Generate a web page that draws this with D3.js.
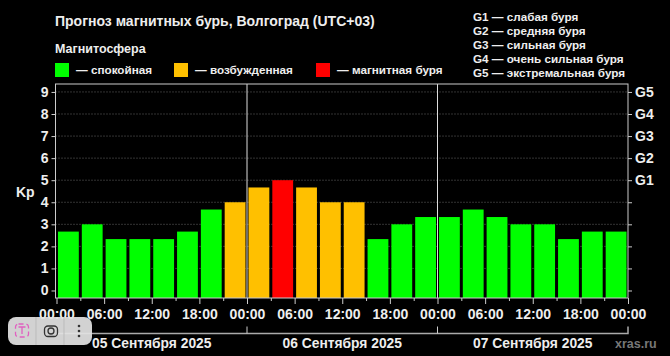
<!DOCTYPE html>
<html>
<head>
<meta charset="utf-8">
<style>
html, body { margin: 0; padding: 0; background: #000; }
svg { display: block; }
text { font-family: "Liberation Sans", Arial, sans-serif; font-weight: bold; fill: #eee; }
</style>
<script src="https://cdn.jsdelivr.net/npm/d3@7"></script>
</head>
<body>
<div id="chart"></div>
<script>
// Chart values
var days = ["05 Сентября 2025", "06 Сентября 2025", "07 Сентября 2025"];
var kpValues = [2.67, 3, 2.33, 2.33, 2.33, 2.67, 3.67, 4,
    4.67, 5, 4.67, 4, 4, 2.33, 3, 3.33,
    3.33, 3.67, 3.33, 3, 3, 2.33, 2.67, 2.67];
var kpTicks = [0, 1, 2, 3, 4, 5, 6, 7, 8, 9];
var stormTicks = [5, 6, 7, 8, 9];
var stormLabels = ["G1", "G2", "G3", "G4", "G5"];
var timeLabels = ["00:00", "06:00", "12:00", "18:00"];
var stormNotes = ["G1 — слабая буря", "G2 — средняя буря", "G3 — сильная буря",
    "G4 — очень сильная буря", "G5 — экстремальная буря"];
var legendNames = ["— спокойная", "— возбужденная", "— магнитная буря"];
var legendColors = ["#00ff00", "#ffc000", "#ff0000"];

var w = 670;
var h = 356;
var plotLeft = 55.5, plotRight = 628, plotTop = 84, plotBottom = 298;

var svg = d3.select("#chart").append("svg")
    .attr("width", w)
    .attr("height", h);

// One unit on x is 1 hour, so a bar is 3 units and a day is 24
var xScale = d3.scaleLinear().domain([0, 72]).range([plotLeft + 1, plotRight]);
var yScale = d3.scaleLinear().domain([-0.34, 9.36]).range([plotBottom, plotTop]);

function barColor(d) {
    if (d >= 5) return legendColors[2];
    if (d >= 4) return legendColors[1];
    return legendColors[0];
}

// Dotted grid at each Kp level
svg.append("g").selectAll("line")
    .data(kpTicks.slice(1))
    .enter().append("line")
    .attr("x1", plotLeft).attr("x2", plotRight)
    .attr("y1", function (d) { return yScale(d); })
    .attr("y2", function (d) { return yScale(d); })
    .attr("stroke", "#666")
    .attr("stroke-width", 1)
    .attr("stroke-dasharray", "1,2");

// Bars
svg.append("g").selectAll("rect")
    .data(kpValues)
    .enter().append("rect")
    .attr("x", function (d, i) { return xScale(i * 3) + 1.5; })
    .attr("width", xScale(3) - xScale(0) - 3)
    .attr("y", function (d) { return yScale(d); })
    .attr("height", function (d) { return yScale.range()[0] - yScale(d); })
    .attr("fill", barColor);

// Day separators
svg.append("g").selectAll("line")
    .data([24, 48])
    .enter().append("line")
    .attr("x1", function (d) { return xScale(d); })
    .attr("x2", function (d) { return xScale(d); })
    .attr("y1", plotTop).attr("y2", plotBottom)
    .attr("stroke", "#ddd");

// Plot frame
svg.append("rect")
    .attr("x", plotLeft).attr("y", plotTop)
    .attr("width", plotRight - plotLeft).attr("height", plotBottom - plotTop)
    .attr("fill", "none")
    .attr("stroke", "#ccc");

// Left Kp axis
var yAxis = d3.axisLeft(yScale).tickValues(kpTicks).tickSize(4).tickPadding(3);
var gy = svg.append("g").attr("transform", "translate(" + plotLeft + ",0)").call(yAxis);

// Right storm axis
var gAxis = d3.axisRight(yScale).tickValues(stormTicks).tickSize(4).tickPadding(3)
    .tickFormat(function (d, i) { return stormLabels[i]; });
var gr = svg.append("g").attr("transform", "translate(" + plotRight + ",0)").call(gAxis);

// Extra small ticks on the right side without labels
var gr2 = svg.append("g").attr("transform", "translate(" + plotRight + ",0)")
    .call(d3.axisRight(yScale).tickValues(kpTicks.slice(0, 5)).tickSize(4).tickFormat(""));

// Time axis: long ticks every 6 hours, short in between
var hourTicks = d3.range(0, 73, 6);
var xAxis = d3.axisBottom(xScale).tickValues(hourTicks).tickSize(6).tickPadding(5)
    .tickFormat(function (d) { return timeLabels[(d % 24) / 6]; });
var gx = svg.append("g").attr("transform", "translate(0," + plotBottom + ")").call(xAxis);
var gx2 = svg.append("g").attr("transform", "translate(0," + plotBottom + ")")
    .call(d3.axisBottom(xScale).tickValues(d3.range(3, 72, 6)).tickSize(3).tickFormat(""));

[gy, gr, gr2, gx, gx2].forEach(function (g) {
    g.select(".domain").remove();
    g.selectAll("line").attr("stroke", "#ccc");
    g.selectAll("text").attr("font-size", 14).style("fill", "#eee");
});

// Day bracket under the time labels
var bracketY = 333.5;
svg.append("path")
    .attr("d", "M" + xScale(0) + "," + bracketY + "H" + xScale(72) + "V" + (bracketY - 7))
    .attr("fill", "none").attr("stroke", "#aaa").attr("stroke-width", 1.5);
svg.append("g").selectAll("line")
    .data([24, 48])
    .enter().append("line")
    .attr("x1", function (d) { return xScale(d); })
    .attr("x2", function (d) { return xScale(d); })
    .attr("y1", bracketY - 7).attr("y2", bracketY)
    .attr("stroke", "#ccc");

svg.append("g").selectAll("text")
    .data(days)
    .enter().append("text")
    .attr("x", function (d, i) { return xScale(i * 24 + 12); })
    .attr("y", 347.5)
    .attr("text-anchor", "middle")
    .attr("font-size", 13.8)
    .text(function (d) { return d; });

// Titles
svg.append("text").attr("x", 55).attr("y", 26).attr("font-size", 14).text("Прогноз магнитных бурь, Волгоград (UTC+03)");
svg.append("text").attr("x", 55).attr("y", 53).attr("font-size", 12.5).text("Магнитосфера");
svg.append("text").attr("x", 16).attr("y", 197).attr("font-size", 14).text("Kp");
svg.append("text").attr("x", 615).attr("y", 348).attr("font-size", 12.5).style("fill", "#777").text("xras.ru");

// Legend
var legendX = [55, 174, 316];
var legend = svg.append("g").selectAll("g")
    .data(legendNames)
    .enter().append("g")
    .attr("transform", function (d, i) { return "translate(" + legendX[i] + ",63)"; });
legend.append("rect")
    .attr("width", 14).attr("height", 14)
    .attr("fill", function (d, i) { return legendColors[i]; });
legend.append("text")
    .attr("x", 21).attr("y", 10.5)
    .attr("font-size", 11.7)
    .text(function (d) { return d; });

// Storm level notes, top right
svg.append("g").selectAll("text")
    .data(stormNotes)
    .enter().append("text")
    .attr("x", 473)
    .attr("y", function (d, i) { return 20.5 + i * 14.2; })
    .attr("font-size", 11.7)
    .text(function (d) { return d; });

// Browser toolbar that sits over the corner of the screenshot
var bar = svg.append("g").attr("transform", "translate(8,317)");
bar.append("rect")
    .attr("width", 84).attr("height", 28).attr("rx", 8)
    .attr("fill", "#e2e2e2").attr("fill-opacity", 0.93);
bar.append("line").attr("x1", 28).attr("x2", 28).attr("y1", 0).attr("y2", 28).attr("stroke", "#bbb");
bar.append("line").attr("x1", 56).attr("x2", 56).attr("y1", 0).attr("y2", 28).attr("stroke", "#bbb");
bar.append("rect")
    .attr("x", 7.5).attr("y", 7).attr("width", 13).attr("height", 13).attr("rx", 3)
    .attr("fill", "none").attr("stroke", "#e060c0").attr("stroke-width", 1.3)
    .attr("stroke-dasharray", "5,3");
bar.append("path")
    .attr("d", "M10.5,10H17.5M14,10V17")
    .attr("fill", "none").attr("stroke", "#e060c0").attr("stroke-width", 1.3);
bar.append("rect")
    .attr("x", 36.5).attr("y", 9).attr("width", 13).attr("height", 10.5).attr("rx", 3.5)
    .attr("fill", "none").attr("stroke", "#333").attr("stroke-width", 1.3);
bar.append("circle")
    .attr("cx", 43).attr("cy", 14).attr("r", 3)
    .attr("fill", "none").attr("stroke", "#333").attr("stroke-width", 1.3);
bar.selectAll("circle.dot")
    .data([-5, 0, 5])
    .enter().append("circle")
    .attr("class", "dot")
    .attr("cx", 71)
    .attr("cy", function (d) { return 14 + d; })
    .attr("r", 1.3)
    .attr("fill", "#333");
</script>
</body>
</html>
